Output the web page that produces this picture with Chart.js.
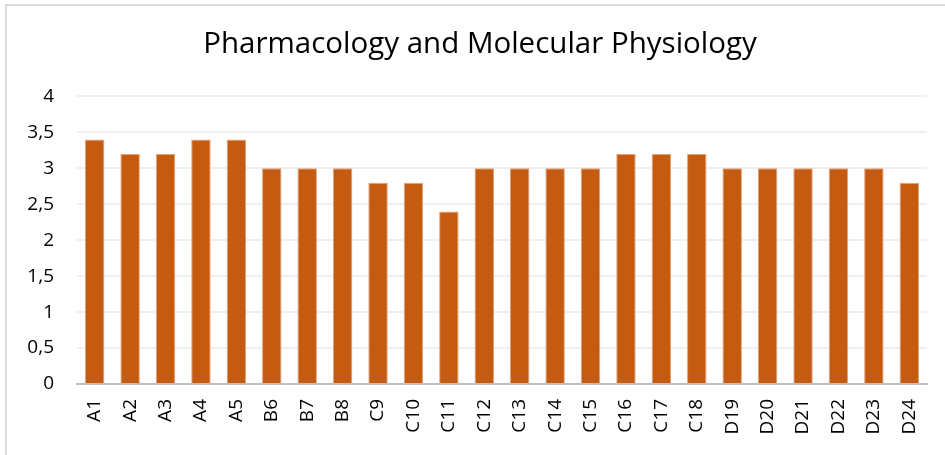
<!DOCTYPE html>
<html>
<head>
<meta charset="utf-8">
<script src="https://cdn.jsdelivr.net/npm/chart.js@4"></script>
<style>
  html, body { margin: 0; padding: 0; background: #fff; overflow: hidden; }
  #wrap { width: 945px; height: 455px; position: relative; overflow: hidden; }
</style>
</head>
<body>
<div id="wrap"><canvas id="chart" width="960" height="455"></canvas></div>
<script>
// data
const categories = ['A1','A2','A3','A4','A5','B6','B7','B8','C9','C10','C11','C12',
                    'C13','C14','C15','C16','C17','C18','D19','D20','D21','D22','D23','D24'];
const scores = [3.4, 3.2, 3.2, 3.4, 3.4, 3, 3, 3, 2.8, 2.8, 2.4, 3,
                3, 3, 3, 3.2, 3.2, 3.2, 3, 3, 3, 3, 3, 2.8];
const yTicks = [0, 0.5, 1, 1.5, 2, 2.5, 3, 3.5, 4];
const chartTitle = 'Pharmacology and Molecular Physiology';

const fontFamily = '"Open Sans", "Liberation Sans", sans-serif';

// light frame around the chart (the original is cropped, so only top/left show)
const framePlugin = {
  id: 'frame',
  beforeDraw(chart) {
    const ctx = chart.ctx;
    ctx.save();
    ctx.strokeStyle = '#d9d9d9';
    ctx.lineWidth = 2;
    ctx.strokeRect(6, 5, chart.width + 10, chart.height + 10);
    ctx.restore();
  }
};

const ctx = document.getElementById('chart').getContext('2d');
new Chart(ctx, {
  type: 'bar',
  data: {
    labels: categories,
    datasets: [{
      data: scores,
      backgroundColor: '#c55a11',
      borderColor: '#e0a27a',
      borderWidth: { left: 1, right: 1, top: 1, bottom: 0 },
      categoryPercentage: 1,
      barPercentage: 0.55
    }]
  },
  options: {
    responsive: false,
    animation: false,
    layout: { padding: 0 },
    plugins: {
      legend: { display: false },
      tooltip: { enabled: false },
      title: {
        display: true,
        text: chartTitle,
        color: '#000',
        font: { family: fontFamily, size: 29.5, weight: 'normal' },
        padding: { top: 27, bottom: 34 }
      }
    },
    scales: {
      x: {
        grid: { display: false, drawTicks: false },
        border: { color: '#bfbfbf', width: 2 },
        ticks: {
          color: '#000',
          font: { family: fontFamily, size: 19 },
          minRotation: 90,
          maxRotation: 90,
          padding: 15,
          autoSkip: false
        },
        afterFit(scale) { scale.height = 71; }
      },
      y: {
        min: 0,
        max: 4,
        afterBuildTicks(scale) { scale.ticks = yTicks.map(v => ({ value: v })); },
        grid: { color: '#efefef', lineWidth: 2, drawTicks: false },
        border: { display: false },
        ticks: {
          color: '#000',
          font: { family: fontFamily, size: 19 },
          padding: 23,
          callback: v => String(v).replace('.', ',')
        },
        afterFit(scale) { scale.width = 77; }
      },
      // empty spacer on the right so the plot ends where the original does
      spacer: {
        position: 'right',
        min: 0,
        max: 1,
        grid: { display: false, drawTicks: false },
        border: { display: false },
        ticks: { display: false },
        afterFit(scale) { scale.width = 33; }
      }
    }
  },
  plugins: [framePlugin]
});
</script>
</body>
</html>
